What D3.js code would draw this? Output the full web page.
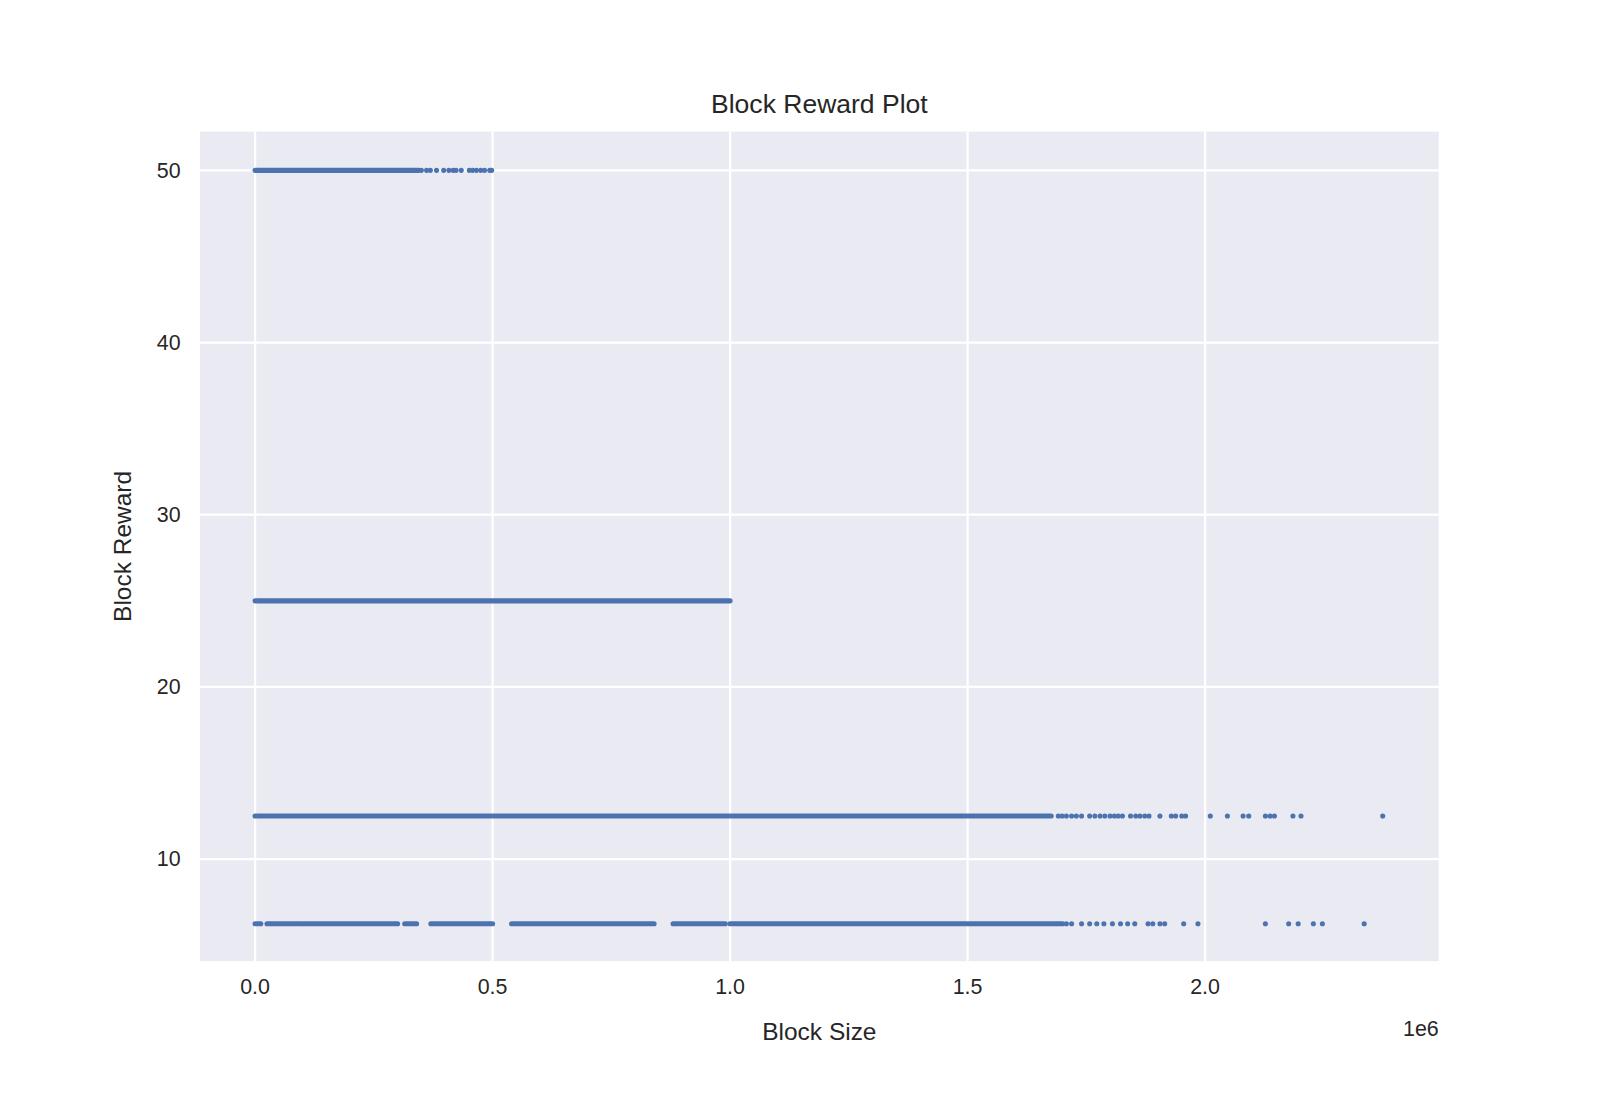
<!DOCTYPE html>
<html><head><meta charset="utf-8">
<script src="https://cdn.jsdelivr.net/npm/d3@7"></script>
<style>body{margin:0;background:#fff}text{font-family:"Liberation Sans",Arial,sans-serif;fill:#262626}</style>
</head><body><svg id="c" width="1600" height="1100"></svg>
<script>
// x values in units of 1e6
const xTicks = [0.0, 0.5, 1.0, 1.5, 2.0];
const yTicks = [10, 20, 30, 40, 50];
const rewards = [50, 25, 12.5, 6.25];
const denseRuns = {
  50: [[0, 0.344]],
  25: [[0, 1.0]],
  12.5: [[0, 1.676]],
  6.25: [[0,0.012],[0.025,0.095],[0.1,0.3],[0.315,0.34],[0.37,0.5],[0.54,0.84],[0.88,0.99],[1.0,1.70]]
};
const scattered = {
  50: [0.350,0.361,0.369,0.382,0.397,0.408,0.417,0.423,0.434,0.451,0.458,0.466,0.475,0.483,0.494,0.498],
  25: [],
  12.5: [1.691,1.699,1.708,1.719,1.729,1.740,1.757,1.768,1.779,1.789,1.800,1.809,1.817,1.826,1.843,1.854,1.863,1.873,1.882,1.905,1.929,1.938,1.951,1.959,2.011,2.047,2.080,2.092,2.127,2.137,2.146,2.185,2.202,2.374],
  6.25: [1.708,1.719,1.740,1.757,1.772,1.787,1.805,1.822,1.837,1.852,1.880,1.890,1.905,1.915,1.955,1.985,2.127,2.176,2.196,2.228,2.247,2.335]
};
const svg = d3.select("#c");
const root = svg.append("g").attr("transform","scale(1.0204)");
const L=196,R=1410,T=129,B=942;
const x = d3.scaleLinear().domain([-0.116,2.492]).range([L,R]);
const y = d3.scaleLinear().domain([4.07,52.25]).range([B,T]);
root.append("rect").attr("x",L).attr("y",T).attr("width",R-L).attr("height",B-T).attr("fill","#eaeaf2");
const g=root.append("g");
xTicks.forEach(t=>g.append("line").attr("x1",x(t)).attr("x2",x(t)).attr("y1",T).attr("y2",B).attr("stroke","#fff").attr("stroke-width",2.2));
yTicks.forEach(t=>g.append("line").attr("x1",L).attr("x2",R).attr("y1",y(t)).attr("y2",y(t)).attr("stroke","#fff").attr("stroke-width",2.2));
const col="#4c72b0";
rewards.forEach(r=>{
  denseRuns[r].forEach(([a,b])=>g.append("line").attr("x1",x(a)).attr("x2",x(b)).attr("y1",y(r)).attr("y2",y(r)).attr("stroke",col).attr("stroke-width",5).attr("stroke-linecap","round"));
  scattered[r].forEach(v=>g.append("circle").attr("cx",x(v)).attr("cy",y(r)).attr("r",2.5).attr("fill",col));
});
xTicks.forEach(t=>root.append("text").attr("x",x(t)).attr("y",B+32).attr("text-anchor","middle").attr("font-size",21).text(t.toFixed(1)));
yTicks.forEach(t=>root.append("text").attr("x",L-19).attr("y",y(t)+7).attr("text-anchor","end").attr("font-size",21).text(t));
root.append("text").attr("x",1410).attr("y",1015).attr("text-anchor","end").attr("font-size",21).text("1e6");
root.append("text").attr("x",(L+R)/2).attr("y",1019).attr("text-anchor","middle").attr("font-size",24).text("Block Size");
root.append("text").attr("transform",`translate(128,${(T+B)/2}) rotate(-90)`).attr("text-anchor","middle").attr("font-size",24).text("Block Reward");
root.append("text").attr("x",(L+R)/2).attr("y",111).attr("text-anchor","middle").attr("font-size",26).text("Block Reward Plot");
</script></body></html>
